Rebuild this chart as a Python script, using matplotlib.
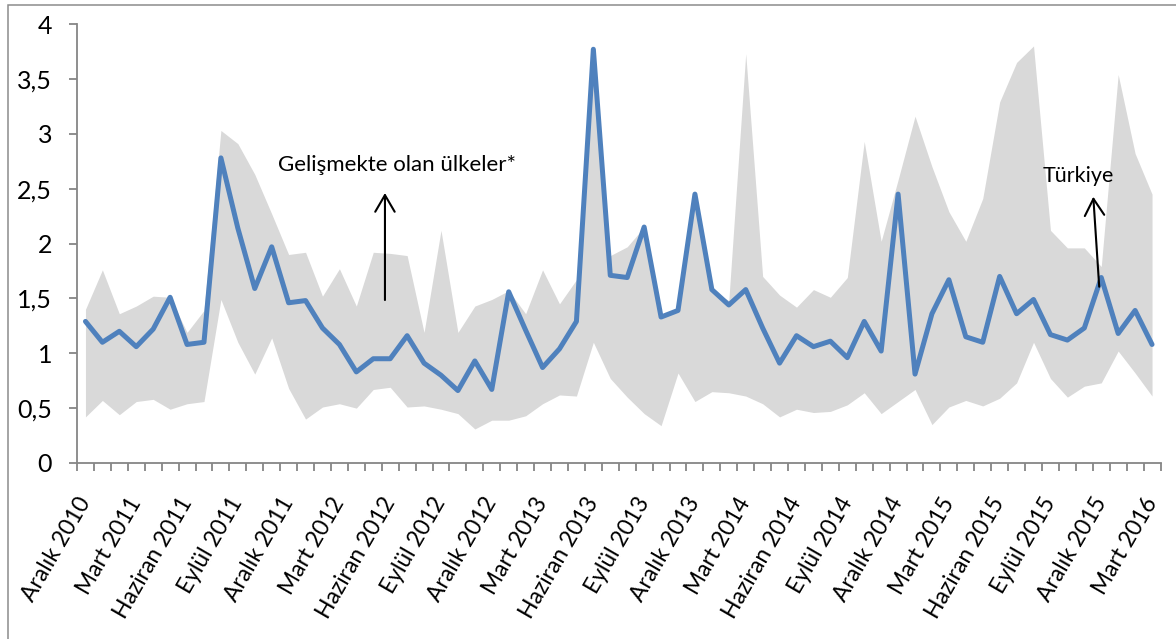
import numpy as np
import matplotlib
matplotlib.use("Agg")
import matplotlib.pyplot as plt
from matplotlib.patches import Rectangle

### data, monthly Aralik 2010 - Mart 2016 ###
turkiye = [1.29, 1.10, 1.20, 1.06, 1.22, 1.51, 1.08, 1.10, 2.78, 2.14,
           1.59, 1.97, 1.46, 1.48, 1.23, 1.08, 0.83, 0.95, 0.95, 1.16,
           0.91, 0.80, 0.66, 0.93, 0.67, 1.56, 1.21, 0.87, 1.04, 1.29,
           3.77, 1.71, 1.69, 2.15, 1.33, 1.39, 2.45, 1.58, 1.44, 1.58,
           1.23, 0.91, 1.16, 1.06, 1.11, 0.96, 1.29, 1.02, 2.45, 0.81,
           1.36, 1.67, 1.15, 1.10, 1.70, 1.36, 1.49, 1.17, 1.12, 1.23,
           1.69, 1.18, 1.39, 1.08]
band_top = [1.40, 1.76, 1.36, 1.43, 1.52, 1.51, 1.19, 1.39, 3.03, 2.91,
            2.63, 2.27, 1.90, 1.92, 1.52, 1.77, 1.43, 1.92, 1.91, 1.89,
            1.19, 2.12, 1.19, 1.43, 1.49, 1.57, 1.36, 1.76, 1.45, 1.67,
            3.75, 1.89, 1.97, 2.15, 1.32, 1.38, 2.44, 1.57, 1.48, 3.73,
            1.70, 1.53, 1.42, 1.58, 1.51, 1.69, 2.93, 2.02, 2.58, 3.16,
            2.70, 2.29, 2.02, 2.41, 3.29, 3.65, 3.80, 2.12, 1.96, 1.96,
            1.79, 3.54, 2.82, 2.45]
band_bottom = [0.42, 0.57, 0.44, 0.56, 0.58, 0.49, 0.54, 0.56, 1.49, 1.10,
               0.81, 1.14, 0.68, 0.40, 0.51, 0.54, 0.50, 0.67, 0.69, 0.51,
               0.52, 0.49, 0.45, 0.31, 0.39, 0.39, 0.43, 0.54, 0.62, 0.61,
               1.10, 0.77, 0.60, 0.45, 0.34, 0.82, 0.56, 0.65, 0.64, 0.61,
               0.54, 0.42, 0.49, 0.46, 0.47, 0.53, 0.64, 0.45, 0.56, 0.67,
               0.35, 0.51, 0.57, 0.52, 0.59, 0.73, 1.10, 0.77, 0.60, 0.70,
               0.73, 1.02, 0.82, 0.61]
month_labels = ["Aralık 2010", "Mart 2011", "Haziran 2011", "Eylül 2011",
                "Aralık 2011", "Mart 2012", "Haziran 2012", "Eylül 2012",
                "Aralık 2012", "Mart 2013", "Haziran 2013", "Eylül 2013",
                "Aralık 2013", "Mart 2014", "Haziran 2014", "Eylül 2014",
                "Aralık 2014", "Mart 2015", "Haziran 2015", "Eylül 2015",
                "Aralık 2015", "Mart 2016"]
y_ticks = [0, 0.5, 1, 1.5, 2, 2.5, 3, 3.5, 4]
y_tick_labels = ["0", "0,5", "1", "1,5", "2", "2,5", "3", "3,5", "4"]

plt.rcParams['font.family'] = ['Lato', 'DejaVu Sans']
axis_grey = '#868686'

fig = plt.figure(figsize=(11.76, 6.39), dpi=100)
ax = fig.add_axes([77/1176, 1-463/639, (1160.5-77)/1176, (463-24)/639])

x = np.arange(len(turkiye))
ax.fill_between(x, band_bottom, band_top, color='#d9d9d9', lw=0)
ax.plot(x, turkiye, color='#4f81bd', lw=3.6, solid_joinstyle='round', solid_capstyle='round')

ax.set_xlim(-0.5, len(turkiye)-0.5)
ax.set_ylim(0, 4)

# month boundary ticks (minor), labels every 3 months (major)
ax.set_xticks(np.arange(len(turkiye)+1)-0.5, minor=True)
ax.set_xticks(x[::3], month_labels, rotation=60, ha='right', va='center', rotation_mode='anchor')
ax.tick_params(axis='x', which='major', length=0, pad=26, labelsize=16.5)
ax.tick_params(axis='x', which='minor', length=6, width=1.3, color=axis_grey, direction='out')
ax.set_yticks(y_ticks, y_tick_labels)
ax.tick_params(axis='y', length=6, width=1.3, color=axis_grey, pad=12, labelsize=18)

for s in ['top', 'right']:
    ax.spines[s].set_visible(False)
for s in ['left', 'bottom']:
    ax.spines[s].set_color(axis_grey)
    ax.spines[s].set_linewidth(1.3)

ax.text(11.37, 2.715, "Gelişmekte olan ülkeler*", ha='left', va='center', fontsize=16)
ax.annotate('', xy=(17.69, 2.46), xytext=(17.69, 1.485),
            arrowprops=dict(arrowstyle='->,head_length=0.6,head_width=0.35', lw=1.5,
                            color='black', mutation_scale=20, shrinkA=0, shrinkB=0))
ax.text(56.56, 2.615, "Türkiye", ha='left', va='center', fontsize=15.5)
ax.annotate('', xy=(59.53, 2.426), xytext=(59.88, 1.606),
            arrowprops=dict(arrowstyle='->,head_length=0.6,head_width=0.35', lw=1.5,
                            color='black', mutation_scale=20, shrinkA=0, shrinkB=0))

# outer chart frame
fig.add_artist(Rectangle((8/1176, -0.05), 1.2, 1-5/639+0.05, transform=fig.transFigure,
                         fill=False, edgecolor='#8c8c8c', lw=1.1))

fig.savefig('out.png', dpi=100)
